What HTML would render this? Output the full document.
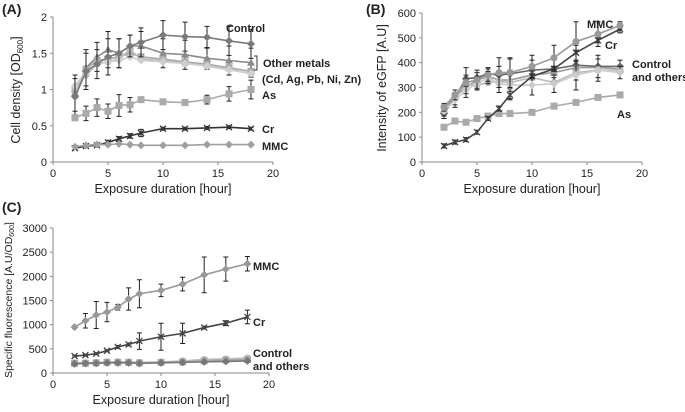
<!DOCTYPE html>
<html><head><meta charset="utf-8"><style>
html,body{margin:0;padding:0;background:#fff;}
svg{display:block;font-family:"Liberation Sans",sans-serif;}
</style></head><body>
<svg id="fig" width="685" height="412" viewBox="0 0 685 412"></svg>
<script>
const times=[2,3,4,5,6,7,8,10,12,14,16,18];
// Panel A: cell density
const aControl=[0.9,1.25,1.35,1.45,1.5,1.6,1.65,1.75,1.73,1.72,1.67,1.63];
const aMetal1=[0.95,1.3,1.45,1.55,1.5,1.6,1.6,1.5,1.48,1.43,1.4,1.37];
const aMetal2=[1.0,1.28,1.4,1.42,1.45,1.5,1.45,1.42,1.38,1.35,1.3,1.25];
const aMetal3=[1.02,1.2,1.35,1.38,1.42,1.55,1.42,1.4,1.36,1.33,1.28,1.22];
const aMetal4=[1.05,1.25,1.35,1.38,1.4,1.45,1.4,1.38,1.36,1.32,1.27,1.22];
const aAs=[0.61,0.67,0.75,0.70,0.78,0.79,0.86,0.83,0.82,0.86,0.94,1.0];
const aCr=[0.19,0.22,0.23,0.27,0.32,0.36,0.40,0.46,0.46,0.47,0.48,0.46];
const aMMC=[0.21,0.23,0.24,0.24,0.25,0.24,0.23,0.23,0.23,0.24,0.24,0.24];
const aErrCtl=[0.25,0.25,0.2,0.25,0.2,0.15,0.2,0.2,0.2,0.15,0.2,0.2];
const aErrAs=[0.03,0.1,0.12,0.1,0.15,0.1,0.03,0.03,0.03,0.06,0.1,0.13];
const aErrCr=[0.02,0.02,0.02,0.03,0.03,0.03,0.05,0.02,0.02,0.02,0.02,0.02];
const aTicks=[0,0.5,1,1.5,2];
// Panel B: eGFP
const bMMC=[220,270,320,330,350,360,360,385,420,485,515,550];
const bCr=[65,80,90,120,175,215,270,345,375,440,490,535];
const bAs=[140,165,160,175,185,195,195,200,225,240,260,270];
const bC1=[195,260,335,340,355,350,355,370,375,390,385,385];
const bC2=[210,265,300,330,345,330,330,350,360,380,380,375];
const bC3=[225,270,310,310,320,325,320,340,320,360,370,370];
const bC4=[205,250,290,315,340,315,310,310,315,350,370,360];
const bErrMMC=[15,20,60,40,25,60,60,45,50,80,50,15];
const bErrCr=[8,8,8,8,8,10,15,10,10,30,10,15];
const bErrC=[20,30,15,20,25,35,60,40,35,60,45,25];
const bTicks=[0,100,200,300,400,500,600];
// Panel C: specific fluorescence
const cMMC=[950,1080,1200,1260,1360,1530,1640,1710,1840,2030,2150,2260];
const cCr=[350,370,400,460,540,590,660,750,820,940,1030,1160];
const cC1=[210,210,220,230,230,230,220,230,250,280,290,310];
const cC2=[200,200,210,220,220,220,210,220,230,250,270,280];
const cC3=[190,200,200,210,210,210,200,210,220,230,240,250];
const cErrMMC=[30,150,280,200,60,230,290,130,140,370,250,150];
const cErrCr=[20,20,20,20,30,30,170,280,210,30,50,140];
const cTicks=[0,500,1000,1500,2000,2500,3000];
const xTicks=[0,5,10,15,20];

const svg=document.getElementById('fig');
const NS='http://www.w3.org/2000/svg';
function el(tag,attrs,parent){const e=document.createElementNS(NS,tag);for(const k in attrs)e.setAttribute(k,attrs[k]);(parent||svg).appendChild(e);return e;}
function txt(s,x,y,size,extra,parent){const t=el('text',Object.assign({x:x,y:y,'font-size':size,fill:'#222'},extra||{}),parent);t.textContent=s;return t;}

function marker(g,type,x,y,col){
  if(type==='d'){el('path',{d:`M${x} ${y-4}L${x+4} ${y}L${x} ${y+4}L${x-4} ${y}Z`,fill:col},g);}
  else if(type==='s'){el('rect',{x:x-3.5,y:y-3.5,width:7,height:7,fill:col},g);}
  else if(type==='t'){el('path',{d:`M${x} ${y-4}L${x+4} ${y+3}L${x-4} ${y+3}Z`,fill:col},g);}
  else if(type==='x'){el('path',{d:`M${x-3} ${y-3}L${x+3} ${y+3}M${x+3} ${y-3}L${x-3} ${y+3}`,stroke:col,'stroke-width':1.3},g);}
  else if(type==='c'){el('circle',{cx:x,cy:y,r:3.5,fill:col},g);}
}
function panel(p){
  const g=el('g',{});
  
  
  const X=v=>p.x0+(p.x1-p.x0)*v/20;
  const Y=v=>p.y0-(p.y0-p.y1)*v/p.ymax;
  el('line',{x1:p.x0,y1:p.y0,x2:p.x1,y2:p.y0,stroke:'#888'},g);
  el('line',{x1:p.x0,y1:p.y0,x2:p.x0,y2:p.y1,stroke:'#888'},g);
  p.yt.forEach(v=>{el('line',{x1:p.x0-3,y1:Y(v),x2:p.x0,y2:Y(v),stroke:'#888'},g);
    const t=txt(String(v),p.x0-6,Y(v)+4,11,{'text-anchor':'end'},g);});
  xTicks.forEach(v=>{el('line',{x1:X(v),y1:p.y0,x2:X(v),y2:p.y0+3,stroke:'#888'},g);
    const t=txt(String(v),X(v),p.y0+15,11,{'text-anchor':'middle'},g);});
  const xt=txt('Exposure duration [hour]',(p.x0+p.x1)/2,p.y0+31,12.5,{'text-anchor':'middle'},g);
  
  p.series.forEach(s=>{
    const sg=el('g',{},g);
    
    
    if(s.e){times.forEach((t,i)=>{const x=X(t),a=Y(s.v[i]+s.e[i]),b=Y(s.v[i]-s.e[i]);
      el('path',{d:`M${x} ${a}V${b}M${x-2.5} ${a}H${x+2.5}M${x-2.5} ${b}H${x+2.5}`,stroke:'#222','stroke-width':1},sg);});}
    el('polyline',{points:times.map((t,i)=>X(t)+','+Y(s.v[i])).join(' '),fill:'none',stroke:s.c,'stroke-width':1.6},sg);
    times.forEach((t,i)=>marker(sg,s.m,X(t),Y(s.v[i]),s.c));
  });
  return g;
}
panel({name:'panel-a-chart',x0:53,x1:273,y0:162,y1:17,ymax:2,yt:aTicks,series:[
  {n:'metal1',v:aMetal1,c:'#8a8a8a',m:'t',e:aErrCtl},
  {n:'metal2',v:aMetal2,c:'#a8a8a8',m:'s'},
  {n:'metal3',v:aMetal3,c:'#bdbdbd',m:'c'},
  {n:'metal4',v:aMetal4,c:'#cfcfcf',m:'d'},
  {n:'control',v:aControl,c:'#7a7a7a',m:'d',e:aErrCtl},
  {n:'as',v:aAs,c:'#aaaaaa',m:'s',e:aErrAs},
  {n:'cr',v:aCr,c:'#333',m:'x',e:aErrCr},
  {n:'mmc',v:aMMC,c:'#a0a0a0',m:'d'}]});
panel({name:'panel-b-chart',x0:422,x1:642,y0:162,y1:13,ymax:600,yt:bTicks,series:[
  {n:'control1',v:bC1,c:'#666',m:'d',e:bErrC},
  {n:'control2',v:bC2,c:'#999',m:'t'},
  {n:'control3',v:bC3,c:'#bbb',m:'c'},
  {n:'control4',v:bC4,c:'#ccc',m:'d',e:bErrC},
  {n:'as',v:bAs,c:'#aaa',m:'s'},
  {n:'cr',v:bCr,c:'#444',m:'x',e:bErrCr},
  {n:'mmc',v:bMMC,c:'#999',m:'c',e:bErrMMC}]});
panel({name:'panel-c-chart',x0:53,x1:269,y0:373,y1:228,ymax:3000,yt:cTicks,series:[
  {n:'control1',v:cC1,c:'#bbb',m:'c'},
  {n:'control2',v:cC2,c:'#aaa',m:'s'},
  {n:'control3',v:cC3,c:'#777',m:'d'},
  {n:'cr',v:cCr,c:'#444',m:'x',e:cErrCr},
  {n:'mmc',v:cMMC,c:'#999',m:'d',e:cErrMMC}]});
</script>
<svg width="685" height="412" style="position:absolute;left:0;top:0;font-family:'Liberation Sans',sans-serif;">
 <g font-weight="bold" font-size="14" fill="#222">
  <text x="2" y="14">(A)</text>
  <text x="366" y="14">(B)</text>
  <text x="2" y="212">(C)</text>
 </g>
 <text transform="translate(20,90) rotate(-90)" text-anchor="middle" font-size="12.5" fill="#222">Cell density [OD<tspan font-size="8" dy="3">600</tspan><tspan dy="-3">]</tspan></text>
 <text transform="translate(386,88) rotate(-90)" text-anchor="middle" font-size="12.5" fill="#222">Intensity of eGFP [A.U]</text>
 <text transform="translate(12,300) rotate(-90)" text-anchor="middle" font-size="10.5" fill="#222">Specific fluorescence [A.U/OD<tspan font-size="7" dy="2">600</tspan><tspan dy="-2">]</tspan></text>
 <g font-weight="bold" font-size="11" fill="#222">
  <text x="226" y="32">Control</text>
  <path d="M254 56 h3 v14 h-3" stroke="#333" fill="none"/>
  <text x="263" y="67">Other metals</text>
  <text x="262" y="83">(Cd, Ag, Pb, Ni, Zn)</text>
  <text x="262" y="99">As</text>
  <text x="262" y="133">Cr</text>
  <text x="262" y="150">MMC</text>
  <text x="587" y="28">MMC</text>
  <text x="605" y="49">Cr</text>
  <text x="632" y="68">Control</text>
  <text x="632" y="81">and others</text>
  <text x="617" y="118">As</text>
  <text x="253" y="270">MMC</text>
  <text x="253" y="326">Cr</text>
  <text x="253" y="357">Control</text>
  <text x="253" y="370">and others</text>
 </g>
</svg>
</body></html>
